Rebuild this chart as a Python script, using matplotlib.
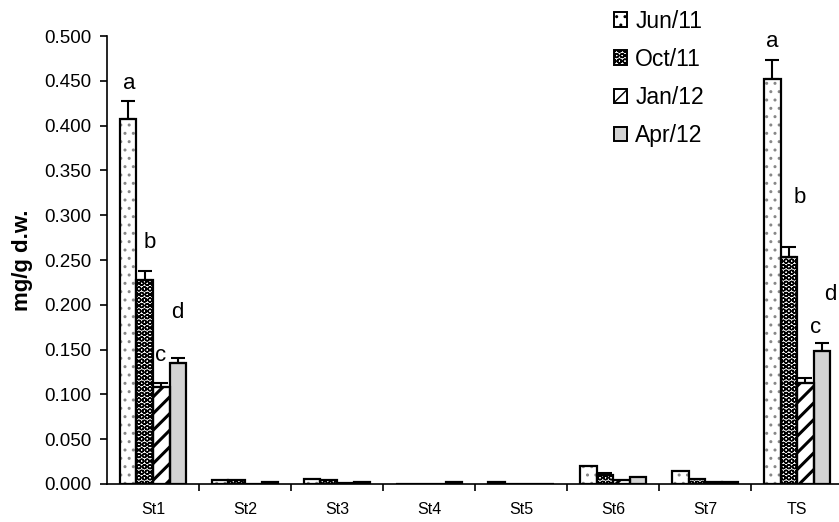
import matplotlib.pyplot as plt
import numpy as np
from matplotlib.patches import Patch

plt.rcParams['font.family'] = ['Liberation Sans', 'DejaVu Sans']

stations = ['St1', 'St2', 'St3', 'St4', 'St5', 'St6', 'St7', 'TS']
seasons = ['Jun/11', 'Oct/11', 'Jan/12', 'Apr/12']

# mean concentration per station, one list per sampling date
jun11 = [0.407, 0.004, 0.006, 0.000, 0.002, 0.020, 0.014, 0.452]
oct11 = [0.228, 0.005, 0.004, 0.000, 0.000, 0.010, 0.006, 0.253]
jan12 = [0.108, 0.000, 0.001, 0.000, 0.000, 0.004, 0.002, 0.113]
apr12 = [0.135, 0.002, 0.002, 0.002, 0.000, 0.008, 0.002, 0.149]

# upper error (standard deviation)
jun11_err = [0.021, 0.0, 0.0, 0.0, 0.0, 0.0, 0.0, 0.021]
oct11_err = [0.010, 0.0, 0.0, 0.0, 0.0, 0.002, 0.0, 0.012]
jan12_err = [0.005, 0.0, 0.0, 0.0, 0.0, 0.0, 0.0, 0.005]
apr12_err = [0.006, 0.0, 0.0, 0.0, 0.0, 0.0, 0.0, 0.008]

# significance letters for St1 and TS
letters = ['a', 'b', 'c', 'd']

values = [jun11, oct11, jan12, apr12]
errors = [jun11_err, oct11_err, jan12_err, apr12_err]
faces = ['white', 'white', 'white', '#d3d3d3']
hatches = ['..', 'OOO', '//', '']
hatch_cols = ['#888888', 'black', 'black', 'black']
hatch_lw = [1.0, 1.0, 2.2, 1.0]

fig = plt.figure(figsize=(8.39, 5.22), dpi=100)
ax = fig.add_axes([0.1275, 0.0728, 0.8775, 0.8582])

x = np.arange(len(stations))
w = 0.18
for i in range(4):
    pos = x + (i - 1.5) * w
    v = np.array(values[i])
    e = np.array(errors[i])
    # fill + pattern first, then a clean black outline on top
    with plt.rc_context({'hatch.linewidth': hatch_lw[i]}):
        ax.bar(pos, v, width=w, color=faces[i], edgecolor=hatch_cols[i],
               linewidth=0, hatch=hatches[i], zorder=2)
    ax.bar(pos, v, width=w, fill=False, edgecolor='black', linewidth=1.6, zorder=2.5)
    has = e > 0
    ax.errorbar(pos[has], v[has], yerr=[np.zeros(has.sum()), e[has]],
                fmt='none', ecolor='black', elinewidth=1.5, capsize=5,
                capthick=1.5, zorder=3)

# letters above St1 bars
st1_y = [0.447, 0.270, 0.143, 0.191]
st1_dx = [-0.26, -0.04, 0.08, 0.26]
for lt, dx, yy in zip(letters, st1_dx, st1_y):
    ax.text(0 + dx, yy, lt, fontsize=16, ha='center', va='center')

# letters above TS bars
ts_y = [0.494, 0.320, 0.175, 0.211]
ts_dx = [-0.27, 0.03, 0.20, 0.36]
for lt, dx, yy in zip(letters, ts_dx, ts_y):
    ax.text(7 + dx, yy, lt, fontsize=16, ha='center', va='center')

ax.set_xlim(-0.5, 7.5)
ax.set_ylim(0, 0.5)
ax.set_yticks(np.arange(0, 0.501, 0.05))
ax.set_yticklabels([f'{t:.3f}' for t in np.arange(0, 0.501, 0.05)])
ax.set_xticks(x)
ax.set_xticklabels(stations)
ax.set_xticks(np.arange(0.5, 7.5, 1), minor=True)
ax.tick_params(axis='x', which='major', length=0, labelsize=11.5, pad=13)
ax.tick_params(axis='x', which='minor', length=5, width=1.2, direction='out')
ax.tick_params(axis='y', length=5, width=1.2, labelsize=13.5, pad=6)
ax.spines['top'].set_visible(False)
ax.spines['right'].set_visible(False)
ax.spines['left'].set_linewidth(1.2)
ax.spines['bottom'].set_linewidth(1.2)
ax.set_ylabel('mg/g d.w.', fontsize=16, fontweight='bold', labelpad=8)

handles = []
for i in range(4):
    handles.append(Patch(facecolor=faces[i], edgecolor='black', hatch=hatches[i],
                         linewidth=1.4))
ax.legend(handles, seasons, loc='upper left', bbox_to_anchor=(0.66, 1.105),
          frameon=False, fontsize=16.5, handlelength=0.6, handleheight=0.6,
          handletextpad=0.35, labelspacing=0.66)

fig.savefig('out.png', dpi=100)
